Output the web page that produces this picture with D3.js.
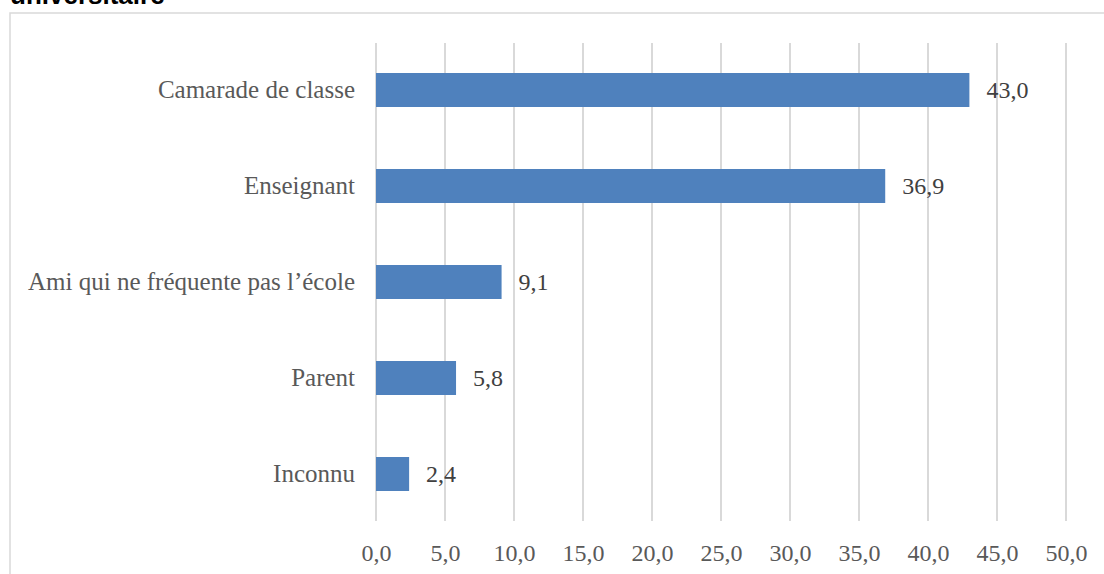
<!DOCTYPE html>
<html>
<head>
<meta charset="utf-8">
<script src="https://cdn.jsdelivr.net/npm/d3@7"></script>
<style>
  body { margin: 0; background: #fff; }
  svg { display: block; }
</style>
</head>
<body>
<div id="plot"></div>
<script>
//data
var categories = ["Camarade de classe", "Enseignant", "Ami qui ne fréquente pas l’école", "Parent", "Inconnu"];
var values = [43.0, 36.9, 9.1, 5.8, 2.4];
var tickValues = [0, 5, 10, 15, 20, 25, 30, 35, 40, 45, 50];
var titleText = "universitaire";

var W = 1104, H = 574;
var margin = {t: 42, r: 38, b: 52, l: 376};

var svg = d3.select('#plot')
    .append('svg')
    .attr('width', W)
    .attr('height', H);

// cropped title above the frame
svg.append('text')
    .attr('x', 10)
    .attr('y', 4)
    .attr('font-family', 'Liberation Sans, Arial, sans-serif')
    .attr('font-weight', 'bold')
    .attr('font-size', 26)
    .attr('fill', '#000')
    .text(titleText);

// chart frame (runs past the bottom/right edge)
svg.append('rect')
    .attr('x', 10)
    .attr('y', 13)
    .attr('width', W + 20)
    .attr('height', H + 20)
    .attr('fill', 'none')
    .attr('stroke', '#d9d9d9')
    .attr('stroke-width', 1.5);

var scaleX = d3.scaleLinear().domain([0, 50]).range([margin.l, W - margin.r]);
var scaleY = d3.scaleBand().domain(categories)
    .range([margin.t, margin.t + 480])
    .paddingInner(0.646)
    .paddingOuter(0.323);

// gridlines
svg.append('g').attr('class', 'grid')
    .selectAll('line')
    .data(tickValues)
    .enter()
    .append('line')
    .attr('x1', function(d){ return scaleX(d); })
    .attr('x2', function(d){ return scaleX(d); })
    .attr('y1', margin.t + 1)
    .attr('y2', margin.t + 479)
    .attr('stroke', '#d9d9d9')
    .attr('stroke-width', 2);

// x axis labels
var axisX = d3.axisBottom().scale(scaleX)
    .tickValues(tickValues)
    .tickSize(0)
    .tickPadding(0)
    .tickFormat(function(d){ return d3.format('.1f')(d).replace('.', ','); });

var gx = svg.append('g')
    .attr('class', 'axis axis-x')
    .attr('transform', 'translate(0,' + 542 + ')')
    .call(axisX);
gx.select('.domain').remove();
gx.selectAll('text')
    .attr('dy', 0)
    .attr('y', 19)
    .attr('font-family', 'Liberation Serif, Cambria, serif')
    .attr('font-size', 24)
    .attr('fill', '#595959');

// y axis labels
var axisY = d3.axisLeft().scale(scaleY).tickSize(0).tickPadding(21);
var gy = svg.append('g')
    .attr('class', 'axis axis-y')
    .attr('transform', 'translate(' + margin.l + ',0)')
    .call(axisY);
gy.select('.domain').remove();
gy.selectAll('text')
    .attr('font-family', 'Liberation Serif, Cambria, serif')
    .attr('font-size', 25)
    .attr('fill', '#595959');

// bars
svg.append('g').attr('class', 'bars')
    .selectAll('rect')
    .data(values)
    .enter()
    .append('rect')
    .attr('x', scaleX(0))
    .attr('y', function(d, i){ return scaleY(categories[i]); })
    .attr('width', function(d){ return scaleX(d) - scaleX(0); })
    .attr('height', scaleY.bandwidth())
    .attr('fill', '#4f81bd');

// value labels
svg.append('g').attr('class', 'values')
    .selectAll('text')
    .data(values)
    .enter()
    .append('text')
    .attr('x', function(d){ return scaleX(d) + 17; })
    .attr('y', function(d, i){ return scaleY(categories[i]) + scaleY.bandwidth() / 2; })
    .attr('dy', '0.34em')
    .attr('font-family', 'Liberation Serif, Cambria, serif')
    .attr('font-size', 24)
    .attr('fill', '#404040')
    .text(function(d){ return d3.format('.1f')(d).replace('.', ','); });
</script>
</body>
</html>
